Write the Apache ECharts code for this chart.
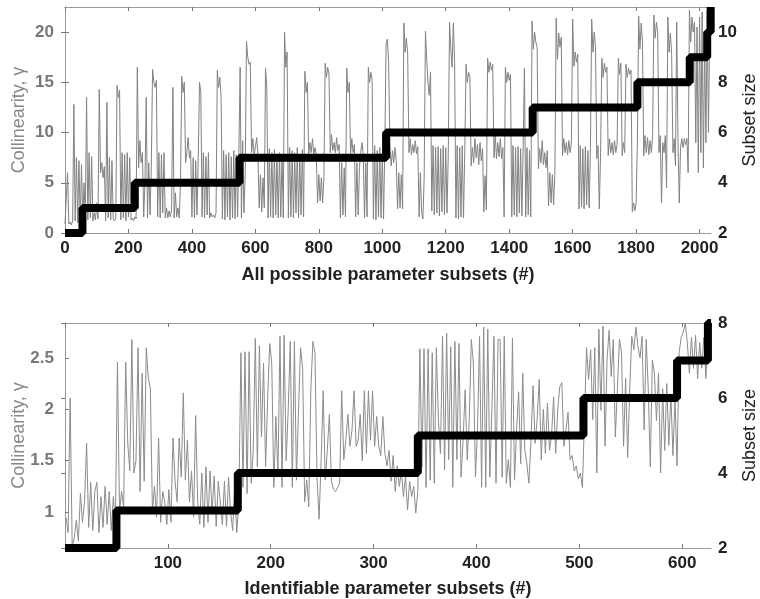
<!DOCTYPE html>
<html><head><meta charset="utf-8">
<script src="https://cdn.jsdelivr.net/npm/echarts@6/dist/echarts.min.js"></script>
<style>html,body{margin:0;padding:0;background:#fff}#c{width:760px;height:599px}</style>
</head><body><div id="c"></div>
<script>
// ---- Top panel: all possible parameter subsets (sampled every 4 subsets) ----
const topStart = 0, topStep = 4;
const topCollinearity = [
0.9,0.8,6.0,0.9,1.1,0.8,1.2,12.8,1.2,7.5,
1.0,7.2,1.1,6.8,1.2,5.0,1.4,13.5,1.3,8.0,
1.5,7.6,1.2,2.0,1.3,3.0,1.4,14.3,6.0,7.0,
5.5,6.6,1.2,13.0,1.5,7.5,1.3,7.2,1.4,1.2,
1.5,14.7,13.5,14.2,1.3,8.0,1.5,7.8,1.2,8.0,
1.6,7.5,1.3,1.5,1.2,1.6,1.4,16.5,6.5,9.2,
7.0,8.0,1.6,5.0,13.5,1.5,7.0,1.8,6.5,16.3,
15.0,14.5,15.2,1.6,8.0,1.5,7.8,2.0,8.0,1.5,
2.5,1.5,2.2,1.6,2.4,14.5,1.5,4.0,1.6,2.5,
1.5,5.0,15.6,14.0,15.0,7.0,8.0,9.5,7.5,8.2,
1.6,7.5,1.5,7.2,1.8,7.5,15.0,14.0,1.6,8.0,
1.5,7.6,1.8,8.0,1.5,2.0,1.6,1.8,1.5,2.0,
16.2,14.5,15.5,13.5,1.4,8.2,1.3,7.8,1.6,8.0,
1.3,7.6,1.5,8.2,1.4,7.8,1.6,8.0,16.5,1.5,
9.2,2.0,6.0,19.1,17.5,16.8,17.0,8.0,9.4,7.8,
8.5,9.5,7.8,2.5,5.8,2.1,5.5,2.5,16.4,14.5,
1.5,8.4,1.6,8.0,1.5,8.3,1.8,7.5,1.5,8.0,
1.6,7.8,1.5,20.0,16.5,18.0,1.5,8.5,1.6,8.2,
1.5,8.0,2.0,8.5,1.5,7.8,1.8,8.3,1.6,16.1,
14.0,15.0,7.8,9.0,8.0,9.4,7.8,8.5,7.8,3.0,
5.8,3.2,5.5,3.0,5.6,16.9,15.5,16.5,15.8,8.0,
9.8,8.2,9.0,8.0,9.5,8.2,8.8,1.5,7.0,1.8,
6.5,1.6,16.4,14.0,15.0,7.8,9.4,8.0,8.8,1.6,
7.0,1.8,6.5,8.0,9.0,7.8,1.5,7.0,1.6,16.5,
15.0,16.0,15.2,1.4,8.7,1.3,8.2,1.6,8.5,1.5,
8.0,1.4,8.5,18.9,19.3,17.0,8.7,6.7,8.2,7.0,
8.5,7.2,2.4,6.0,2.5,5.8,2.4,20.9,18.0,19.4,
17.8,8.0,9.4,7.8,8.8,8.0,9.2,7.9,8.6,1.6,
6.0,2.0,1.4,5.5,20.1,17.3,15.0,13.7,16.0,2.2,
8.7,1.8,8.5,2.0,8.6,1.7,8.4,2.1,8.7,1.8,
8.5,2.0,8.0,21.0,18.3,16.5,20.9,17.0,1.5,8.7,
1.4,8.5,1.6,8.7,1.5,8.2,16.8,15.0,16.0,15.5,
6.7,8.5,7.0,9.4,7.5,8.8,6.8,9.0,7.2,8.4,
2.1,5.7,2.3,17.4,16.0,17.0,16.2,16.8,7.5,9.8,
7.4,9.0,7.6,9.4,7.4,8.5,1.6,16.5,15.0,16.0,
15.2,15.8,1.6,8.7,1.8,8.5,1.6,8.6,2.0,8.4,
1.7,8.7,16.4,1.6,8.5,1.8,8.2,1.6,21.1,18.3,
20.0,19.0,18.5,6.4,8.4,7.0,9.2,6.8,8.0,6.5,
8.2,2.7,6.0,3.0,5.8,2.8,6.0,21.4,17.3,19.9,
18.5,19.5,7.7,9.4,8.0,9.0,7.8,9.2,8.0,9.0,
21.3,16.6,18.0,17.0,17.8,2.4,8.7,2.6,8.4,2.4,
8.6,2.8,8.2,2.5,8.5,21.3,18.0,20.0,18.5,7.4,
8.7,2.4,8.0,17.4,15.5,16.9,16.0,16.5,7.7,9.4,
8.0,9.0,7.8,9.2,8.0,8.8,17.4,15.8,16.9,7.7,
9.0,8.0,16.8,15.5,16.4,15.8,16.2,2.1,3.0,2.2,
3.0,9.0,21.6,18.3,20.9,19.0,7.7,9.7,8.0,9.5,
7.8,9.2,8.0,9.7,21.7,19.4,21.0,20.0,8.0,9.7,
3.0,9.0,8.0,9.7,4.5,21.5,18.0,19.9,17.8,8.0,
9.4,6.7,21.0,9.0,3.0,8.5,9.4,8.5,9.4,8.8,
9.4,6.0,22.2,19.0,21.5,20.0,21.0,9.0,20.5,6.0,
21.5,8.0,22.0,6.5,19.0,9.0,22.2,10.0,21.0
];
const topStepX    = [0, 55, 220, 550, 1012, 1474, 1804, 1969, 2024, 2035];
const topStepSize = [2, 3, 4, 5, 6, 7, 8, 9, 10, 11];
const topXMax = 2036;
const topLeftMax = 22.5;

// ---- Bottom panel: identifiable parameter subsets (sampled every 2 subsets) ----
const botStart = 1, botStep = 2;
const botCollinearity = [
0.95,0.8,2.11,0.66,0.75,0.92,0.72,1.18,0.9,1.1,
1.67,0.85,1.29,0.82,1.2,1.29,0.8,1.15,0.85,1.25,
0.88,1.2,0.82,1.15,0.9,2.46,1.0,1.2,1.05,2.46,
1.67,1.4,2.68,1.38,1.5,2.6,1.2,2.35,1.3,2.6,
2.3,2.2,1.0,1.25,0.95,1.72,0.9,1.2,1.1,0.88,
1.22,0.9,1.72,1.3,1.1,1.72,1.34,2.16,1.31,1.7,
1.1,1.4,0.95,1.94,1.1,0.88,1.38,0.85,1.44,0.9,
1.4,1.0,1.35,0.86,1.3,1.1,0.88,1.3,0.86,1.34,
1.0,0.82,1.25,0.8,1.1,2.55,1.24,2.56,1.18,2.56,
1.28,1.6,2.69,1.44,2.62,1.73,2.45,1.44,2.1,2.64,
2.45,1.24,1.93,1.34,2.71,1.24,2.72,1.5,2.0,2.66,
1.24,2.66,1.31,2.0,2.6,2.4,1.1,1.31,1.05,2.2,
2.66,2.55,1.34,0.93,1.5,2.18,1.31,1.6,1.95,1.3,
1.22,1.2,1.24,1.28,2.18,1.51,1.7,1.95,1.64,1.8,
2.18,1.64,1.7,1.95,1.5,2.18,1.57,2.18,1.7,2.18,
1.64,1.93,1.64,1.55,1.93,1.57,1.45,1.6,1.3,1.55,
1.2,1.45,1.25,1.4,1.15,1.35,1.02,1.3,1.15,1.25,
0.99,1.2,2.59,1.44,2.59,1.24,2.59,1.31,2.55,1.28,
2.6,1.9,1.57,2.71,1.41,2.74,1.51,2.61,1.24,2.66,
1.51,2.64,1.34,1.7,2.19,1.51,1.9,2.68,2.45,1.34,
1.8,2.71,1.24,2.8,1.24,2.78,1.34,2.0,2.71,1.28,
2.68,2.68,1.34,2.71,1.28,1.51,1.24,2.69,1.31,1.8,
2.17,1.47,2.35,1.6,1.47,1.28,1.7,2.23,1.67,1.9,
2.29,1.51,2.0,1.57,2.06,1.6,1.75,2.12,1.57,2.0,
2.22,2.26,1.64,1.8,1.97,1.51,1.55,1.4,1.45,1.32,
1.38,1.24,1.9,2.6,2.29,2.58,1.9,2.6,1.38,2.78,
1.99,2.81,1.64,2.5,2.77,2.32,2.68,1.73,2.2,2.68,
2.55,1.64,2.3,1.53,2.2,2.71,2.58,2.8,2.61,2.5,
2.71,1.8,2.68,2.2,1.44,2.48,2.35,1.89,2.35,1.38,
2.2,1.6,2.25,1.65,2.15,1.55,2.1,1.45,2.55,2.7,
2.75,2.84,2.65,2.35,2.7,2.4,2.72,2.3,2.65,2.4,
2.7,2.3,2.65,2.6
];
const botStepX    = [0, 50, 168, 343, 504, 595, 625, 628];
const botStepSize = [2, 3, 4, 5, 6, 7, 8, 8];
const botXMax = 628;
const botLeftMin = 0.65, botLeftMax = 2.84;
const botLeftTicks = [1, 1.5, 2, 2.5];

// ---- styling ----
const FONT = "'Liberation Sans', Arial, sans-serif";
const plain = v => String(v);
const frame = {show: true, lineStyle: {color: '#999', width: 1}};
const tickIn = {show: true, inside: true, length: 4, lineStyle: {color: '#777'}};
const xLabel = {fontFamily: FONT, fontSize: 17, fontWeight: 'bold', color: '#222', margin: 7, showMaxLabel: false, formatter: plain};
const leftLabel = {fontFamily: FONT, fontSize: 17, fontWeight: 'bold', color: '#777', margin: 11, showMaxLabel: false, formatter: plain};
const rightLabel = {fontFamily: FONT, fontSize: 17, fontWeight: 'bold', color: '#222', margin: 7, showMaxLabel: false, formatter: plain};
const xName = {fontFamily: FONT, fontSize: 18, fontWeight: 'bold', color: '#222'};
const leftName = {fontFamily: FONT, fontSize: 18, color: '#888'};
const rightName = {fontFamily: FONT, fontSize: 18, color: '#222'};

const chart = echarts.init(document.getElementById('c'), null, {renderer: 'canvas'});
chart.setOption({
  animation: false,
  backgroundColor: '#fff',
  grid: [
    {left: 65, top: 7, width: 646, height: 226, outerBoundsMode: 'none', containLabel: false},
    {left: 65, top: 323, width: 646, height: 225, outerBoundsMode: 'none', containLabel: false}
  ],
  xAxis: [
    {gridIndex: 0, type: 'value', position: 'bottom', min: 0, max: topXMax, interval: 200,
     axisLine: frame, axisTick: tickIn, axisLabel: xLabel, splitLine: {show: false},
     name: 'All possible parameter subsets (#)', nameLocation: 'middle', nameGap: 33, nameMoveOverlap: false, nameTextStyle: xName},
    {gridIndex: 0, type: 'value', position: 'top', min: 0, max: topXMax, interval: 200,
     axisLine: frame, axisTick: tickIn, axisLabel: {show: false}, splitLine: {show: false}},
    {gridIndex: 1, type: 'value', position: 'bottom', min: 0, max: botXMax, interval: 100,
     axisLine: frame, axisTick: tickIn, axisLabel: Object.assign({}, xLabel, {showMinLabel: false}), splitLine: {show: false},
     name: 'Identifiable parameter subsets (#)', nameLocation: 'middle', nameGap: 32, nameMoveOverlap: false, nameTextStyle: xName},
    {gridIndex: 1, type: 'value', position: 'top', min: 0, max: botXMax, interval: 100,
     axisLine: frame, axisTick: tickIn, axisLabel: {show: false}, splitLine: {show: false}}
  ],
  yAxis: [
    {gridIndex: 0, type: 'value', position: 'left', min: 0, max: topLeftMax, interval: 5,
     axisLine: frame, axisTick: tickIn, axisLabel: leftLabel, splitLine: {show: false},
     name: 'Collinearity, γ', nameLocation: 'middle', nameGap: 37, nameMoveOverlap: false, nameTextStyle: leftName},
    {gridIndex: 0, type: 'value', position: 'right', min: 2, max: 11, interval: 2,
     axisLine: frame, axisTick: tickIn, axisLabel: rightLabel, splitLine: {show: false},
     name: 'Subset size', nameLocation: 'middle', nameGap: 30, nameMoveOverlap: false, nameTextStyle: rightName},
    {gridIndex: 1, type: 'value', position: 'left', min: botLeftMin, max: botLeftMax,
     axisLine: frame, axisTick: Object.assign({}, tickIn, {customValues: botLeftTicks}),
     axisLabel: Object.assign({}, leftLabel, {customValues: botLeftTicks, showMaxLabel: true, showMinLabel: true}), splitLine: {show: false},
     name: 'Collinearity, γ', nameLocation: 'middle', nameGap: 37, nameMoveOverlap: false, nameTextStyle: leftName},
    {gridIndex: 1, type: 'value', position: 'right', min: 2, max: 8, interval: 2,
     axisLine: frame, axisTick: tickIn, axisLabel: Object.assign({}, rightLabel, {showMaxLabel: true}), splitLine: {show: false},
     name: 'Subset size', nameLocation: 'middle', nameGap: 30, nameMoveOverlap: false, nameTextStyle: rightName}
  ],
  series: [
    {type: 'line', xAxisIndex: 0, yAxisIndex: 0, symbol: 'none', silent: true,
     lineStyle: {color: '#828282', width: 1},
     data: topCollinearity.map((v, i) => [topStart + i * topStep, v])},
    {type: 'line', xAxisIndex: 0, yAxisIndex: 1, symbol: 'none', step: 'end', silent: true,
     lineStyle: {color: '#000', width: 8},
     data: topStepX.map((x, i) => [x, topStepSize[i]])},
    {type: 'line', xAxisIndex: 2, yAxisIndex: 2, symbol: 'none', silent: true,
     lineStyle: {color: '#8c8c8c', width: 1},
     data: botCollinearity.map((v, i) => [botStart + i * botStep, v])},
    {type: 'line', xAxisIndex: 2, yAxisIndex: 3, symbol: 'none', step: 'end', silent: true,
     lineStyle: {color: '#000', width: 8},
     data: botStepX.map((x, i) => [x, botStepSize[i]])}
  ]
});
</script>
</body></html>
